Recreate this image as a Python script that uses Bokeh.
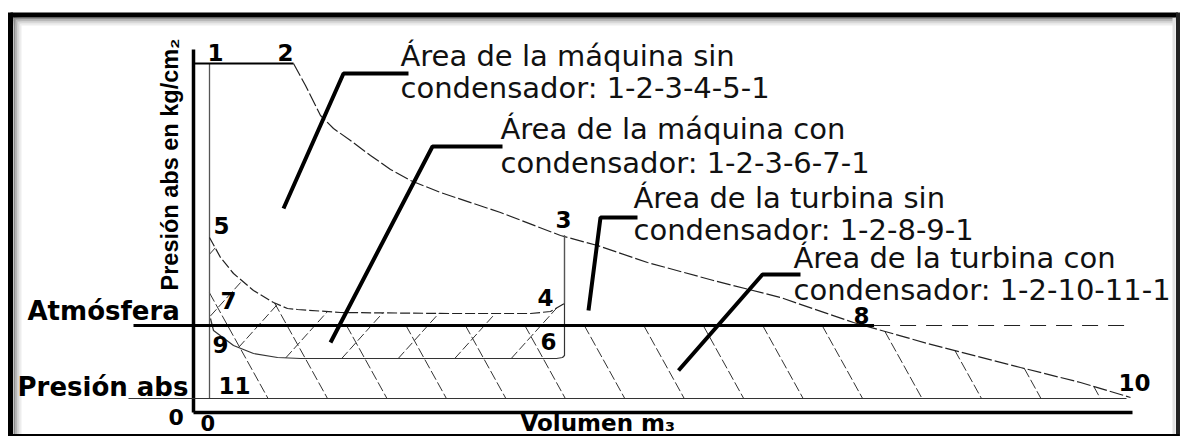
import numpy as np
from bokeh.plotting import figure
from bokeh.models import Range1d
from bokeh.core.properties import value
from bokeh.embed import file_html
from bokeh.resources import INLINE

# ---------------- datos del diagrama (unidades del dibujo: volumen / presión) ----------
# curva de expansión 2-3-8-10
V_EXP = [100, 112, 127, 140, 157, 177, 197, 217, 247, 307, 367, 404, 454, 520, 587, 660, 734, 827, 887, 937]
P_EXP = [349, 327, 297, 284, 272, 257, 243, 232, 220, 200, 177, 167, 150, 132, 115, 90, 69, 45, 30, 15]
# admisión 1-2
V_ADM = [1, 100]
P_ADM = 349
# escape sin condensador 5-7-4
V_ESC = [16, 27, 40, 60, 80, 94, 104, 147, 257, 337, 357, 371]
P_ESC = [175, 155, 139, 122, 110, 104, 103, 100, 99, 99, 101, 109]
# escape con condensador 3-6-7-9
V_CON = [371, 371, 369, 363, 107, 84, 60, 40, 20, 17]
P_CON = [177, 57, 55, 54, 54, 55, 59, 67, 82, 94]
# niveles
P_ATM = 87          # atmósfera
P_ABS = 14          # presión absoluta del condensador
V_CLEAR = 16        # línea de espacio muerto
V_FIN = 939
# etiquetas de puntos
PUNTOS = ["1", "2", "3", "4", "5", "6", "7", "8", "9", "10", "11"]
PUNTO_V = [14, 84, 362, 344, 20, 347, 27, 660, 19, 925, 25]
PUNTO_P = [352, 352, 185, 107, 179, 63, 104, 89, 60, 22, 19]
# textos de áreas
AREA_L1 = ["Área de la máquina sin", "Área de la máquina con", "Área de la turbina sin", "Área de la turbina con"]
AREA_L2 = ["condensador: 1-2-3-4-5-1", "condensador: 1-2-3-6-7-1", "condensador: 1-2-8-9-1", "condensador: 1-2-10-11-1"]
AREA_V = [207, 307, 440, 600]
AREA_P1 = [347, 274, 205, 145]
AREA_P2 = [315, 240, 173, 113]
# líneas indicadoras (leader lines)
LEAD_V = [[90, 150, 215], [137, 239, 309], [395, 407, 444], [485, 569, 607]]
LEAD_P = [[204, 339, 339], [70, 266, 266], [102, 195, 195], [42, 138, 138]]

# ---------------- figura ----------------
p = figure(width=1181, height=436, x_range=Range1d(-193, 988), y_range=Range1d(-24, 412),
           output_backend="svg", toolbar_location=None, min_border=0,
           x_axis_location=None, y_axis_location=None)
p.grid.visible = False
p.outline_line_color = None
p.background_fill_color = "white"
p.border_fill_color = "white"

x0, x1 = p.x_range.start, p.x_range.end
y0, y1 = p.y_range.start, p.y_range.end

# marco con sombra
for off, col in [(21, "#ededed"), (19, "#d8d8d8"), (17, "#b8b8b8"), (15, "#8c8c8c")]:
    p.line([x0 + off - 1, x0 + off - 1], [y1 - 15, y0 + 2], line_color=col, line_width=2)
    p.line([x0 + 12, x1 - 6], [y1 - off - 3, y1 - off - 3], line_color=col, line_width=2)
p.line([x1 - 7.5, x1 - 7.5], [y1 - 17, y0 + 2], line_color="#e2e2e2", line_width=3)
p.line([x0 + 10, x1 - 3.5], [y1 - 14.5, y1 - 14.5], line_color="black", line_width=5)
p.line([x0 + 10, x0 + 10], [y1 - 12, y0], line_color="black", line_width=5)
p.line([x1 - 3.5, x1 - 3.5], [y1 - 12, y0], line_color="#222222", line_width=4)
p.line([x0 + 8, x1 - 2], [y0 + 1, y0 + 1], line_color="black", line_width=3)


def hatch(vx, vy, ang_deg, spacing, phase=0.0):
    a = np.radians(ang_deg)
    d = np.array([np.cos(a), np.sin(a)])
    n = np.array([-d[1], d[0]])
    P = np.column_stack([vx, vy]).astype(float)
    Q = np.roll(P, -1, axis=0)
    proj = P @ n
    start = np.floor((proj.min() - phase) / spacing) * spacing + phase
    xs, ys = [], []
    for c in np.arange(start, proj.max(), spacing):
        s1 = P @ n - c
        s2 = Q @ n - c
        m = (s1 * s2) < 0
        if m.sum() < 2:
            continue
        t = s1[m] / (s1[m] - s2[m])
        pts = P[m] + t[:, None] * (Q[m] - P[m])
        pts = pts[np.argsort(pts @ d)]
        for i in range(0, len(pts) - 1, 2):
            xs.append([pts[i, 0], pts[i + 1, 0]])
            ys.append([pts[i, 1], pts[i + 1, 1]])
    return xs, ys


# región "/" : entre escape sin y con condensador
reg1_v = V_ESC + V_CON[1:]
reg1_p = P_ESC + P_CON[1:]
hx, hy = hatch(reg1_v, reg1_p, 48, 42, 10)
p.multi_line(hx, hy, line_color="#333333", line_width=1, line_dash="9 3")

# región "\" : turbina con condensador bajo la atmósfera
v_exp = np.array(V_EXP, float)
p_exp = np.array(P_EXP, float)
v_cross = float(np.interp(P_ATM, p_exp[::-1], v_exp[::-1]))
low = p_exp < P_ATM
reg2_v = V_ESC[:6] + [V_ESC[5], v_cross] + list(v_exp[low]) + [V_EXP[-1], V_CLEAR]
reg2_p = P_ESC[:6] + [P_ATM, P_ATM] + list(p_exp[low]) + [P_ABS, P_ABS]
hx, hy = hatch(reg2_v, reg2_p, -61, 52, 20)
p.multi_line(hx, hy, line_color="#333333", line_width=1, line_dash="10 3")

# ejes
p.line([0, 0], [363, 0], line_color="black", line_width=3.5)
p.line([0, V_FIN], [0, 0], line_color="black", line_width=3.5)
p.line([V_CLEAR, V_CLEAR], [P_ADM, P_ABS], line_color="#555555", line_width=1.3)
p.line([-65, V_FIN - 6], [P_ABS, P_ABS], line_color="#333333", line_width=1.2)

# admisión y expansión
p.line(V_ADM, [P_ADM, P_ADM], line_color="black", line_width=2.2)
p.line(V_EXP, P_EXP, line_color="#222222", line_width=1.2, line_dash="14 3")
# escapes
p.line(V_ESC, P_ESC, line_color="#222222", line_width=1.2, line_dash="10 3")
p.line(V_CON, P_CON, line_color="#333333", line_width=1.2)
p.line([V_CON[0], V_CON[0]], [P_EXP[10], P_ESC[-1]], line_color="#555555", line_width=1.2)

# atmósfera
p.line([-60, v_cross + 10], [P_ATM, P_ATM], line_color="black", line_width=3)
p.line([v_cross + 10, V_FIN], [P_ATM, P_ATM], line_color="#222222", line_width=1.2, line_dash="16 10")

# líneas indicadoras
p.multi_line(LEAD_V, LEAD_P, line_color="black", line_width=4)

# corrección de la línea base del texto (px por px de tamaño de fuente)
K = 0.34


def up(vals, fs):
    return [v + K * fs for v in vals]


# textos de áreas
f_ann = value("DejaVu Sans")
FS_A = 29
p.text(AREA_V, up(AREA_P1, FS_A), text=AREA_L1, text_font=f_ann, text_font_size=f"{FS_A}px",
       text_baseline="alphabetic", text_align="left", text_color="#111111")
p.text(AREA_V, up(AREA_P2, FS_A), text=AREA_L2, text_font=f_ann, text_font_size=f"{FS_A}px",
       text_baseline="alphabetic", text_align="left", text_color="#111111")

# etiquetas de puntos
f_b = value("DejaVu Sans")
FS_N = 23
p.text(PUNTO_V, up(PUNTO_P, FS_N), text=PUNTOS, text_font=f_b, text_font_size=f"{FS_N}px",
       text_font_style="bold", text_baseline="alphabetic", text_align="left", text_color="black")
p.text([-25], up([-12], 22), text=["0"], text_font=f_b, text_font_size="22px",
       text_font_style="bold", text_baseline="alphabetic", text_align="left", text_color="black")
p.text([7], up([-18], 21), text=["0"], text_font=f_b, text_font_size="21px",
       text_font_style="bold", text_baseline="alphabetic", text_align="left", text_color="black")

# rótulos de ejes
p.text([-166], up([93], 26), text=["Atmósfera"], text_font=f_b, text_font_size="26px",
       text_font_style="bold", text_baseline="alphabetic", text_align="left", text_color="black")
p.text([-176], up([17], 26), text=["Presión abs"], text_font=f_b, text_font_size="26px",
       text_font_style="bold", text_baseline="alphabetic", text_align="left", text_color="black")
p.text([327], up([-18], 23), text=["Volumen m₃"], text_font=f_b, text_font_size="23px",
       text_font_style="bold", text_baseline="alphabetic", text_align="left", text_color="black")
p.text([-16 - K * 23.5], [122], text=["Presión abs en kg/cm₂"], angle=np.pi / 2,
       text_font=value("Liberation Sans"), text_font_size="23.5px", text_font_style="bold",
       text_baseline="alphabetic", text_align="left", text_color="black")

open("out.html", "w").write(file_html(p, INLINE))
